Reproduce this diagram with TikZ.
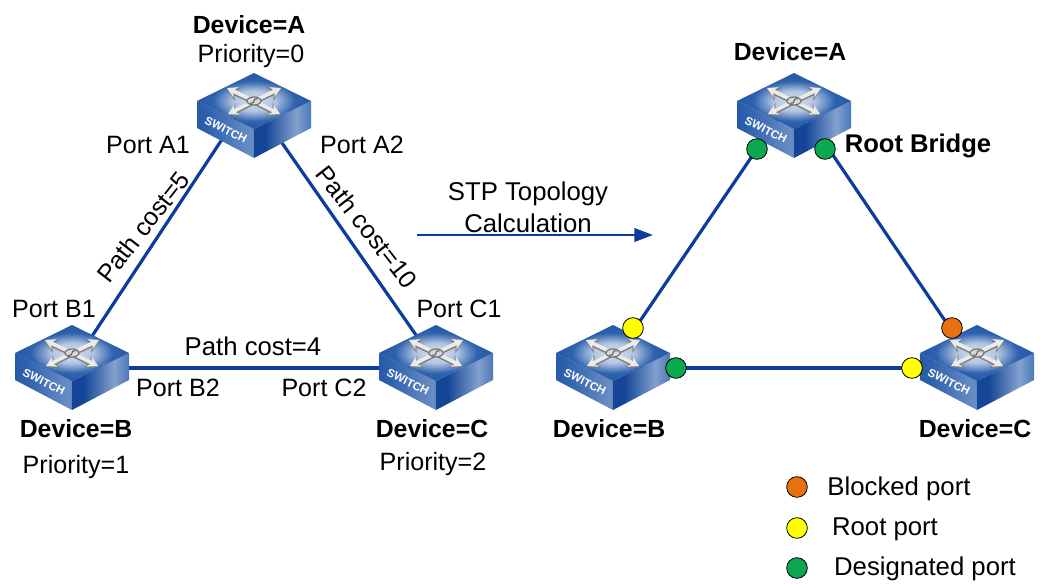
\documentclass[tikz,border=0pt]{standalone}
\usepackage{fontspec}
\setmainfont{Liberation Sans}
\usetikzlibrary{arrows.meta}
\definecolor{linkblue}{HTML}{0B3C9E}
\definecolor{swdark}{HTML}{144596}
\definecolor{swmid}{HTML}{2F62AE}
\definecolor{swlight}{HTML}{D3DEEE}
\definecolor{dotgreen}{HTML}{0BA84F}
\definecolor{dotyellow}{HTML}{FFFF00}
\definecolor{dotorange}{HTML}{E8700F}
\pgfdeclarehorizontalshading{swleftface}{100bp}{
  color(0bp)=(swdark); color(35bp)=(swmid); color(72bp)=(swmid!72!white); color(100bp)=(swdark)}
\pgfdeclarehorizontalshading{swrightface}{100bp}{
  color(0bp)=(swdark); color(35bp)=(swdark); color(62bp)=(swmid!60!white); color(82bp)=(swmid); color(100bp)=(swdark)}
\pgfdeclareradialshading{swtopface}{\pgfpoint{0bp}{0bp}}{
  color(0bp)=(swlight); color(9bp)=(swlight!80!swmid); color(18bp)=(swmid); color(36bp)=(swdark); color(50bp)=(swdark)}
\tikzset{
  x=0.75pt,y=-0.75pt,
  hub/.style={inner sep=0pt,minimum size=0pt},
  link/.style={draw=linkblue,line width=2.4pt},
  portdot/.style={circle,draw=black,line width=0.6pt,minimum size=15.5pt,inner sep=0pt},
  lbl/.style={inner sep=0pt,anchor=base,font=\fontsize{18.8}{22}\selectfont},
  blbl/.style={inner sep=0pt,anchor=base,font=\fontsize{18.6}{22}\selectfont\bfseries},
  wlbl/.style={inner sep=0pt,anchor=base,font=\fontsize{19.3}{22}\selectfont},
  crossarrow/.style={draw=white!92!black,line width=2.8pt,-{Stealth[length=7.5pt,width=8.5pt]}},
  crossshadow/.style={draw=black!50,line width=3.8pt,-{Stealth[length=9pt,width=11pt]}},
  switch/.pic={
    \shade[shading=swleftface]
      (-57,28) -- (0,56) -- (0,85) -- (-57,55) -- cycle;
    \shade[shading=swrightface]
      (0,56) -- (57,28) -- (57,55) -- (0,85) -- cycle;
    \shade[shading=swtopface]
      (0,0) -- (57,28) -- (0,56) -- (-57,28) -- cycle;
    \foreach \tx/\ty in {-27/15,27/15,-26/41,26/41}{
      \draw[crossshadow] (0,29) -- (\tx,\ty+1);
      \draw[crossarrow] (0,28) -- (\tx,\ty);
    }
    \draw[black!55,line width=0.9pt,fill=white!85!black] (0,28) ellipse (7 and 4);
    \draw[black!70,line width=0.7pt] (-4,30) .. controls (4,31) and (-4,25) .. (4,26);
    \node[rotate=-26,inner sep=0pt,text=white,font=\fontsize{8.6}{10}\selectfont\bfseries] at (-28,57) {SWITCH};
  }
}
\begin{document}
\begin{tikzpicture}
\useasboundingbox (0,0) rectangle (1040,583);
% hubs
\node[hub] (LA) at (250,97) {};
\node[hub] (LB) at (71,368) {};
\node[hub] (LC) at (439,368) {};
\node[hub] (RA) at (793,96) {};
\node[hub] (RB) at (608,368) {};
\node[hub] (RC) at (977,368) {};
\coordinate (ArrS) at (417,235);
\coordinate (ArrE) at (653,235);
% links
\draw[link] (LA) -- (LB);
\draw[link] (LA) -- (LC);
\draw[link] (LB) -- (LC);
\draw[link] (RA) -- (RB);
\draw[link] (RA) -- (RC);
\draw[link] (RB) -- (RC);
\draw[link,line width=2.1pt,-{Triangle[length=14pt,width=10pt]}] (ArrS) -- (ArrE);
% switches
\pic at (254,73) {switch};
\pic at (72,325) {switch};
\pic at (436,325) {switch};
\pic at (794,73) {switch};
\pic at (613,325) {switch};
\pic at (977,325) {switch};
% port dots
\node[portdot,fill=dotgreen] (d1) at (757,149) {};
\node[portdot,fill=dotgreen] (d2) at (825,149) {};
\node[portdot,fill=dotyellow] (d3) at (633,328) {};
\node[portdot,fill=dotgreen] (d4) at (676,368) {};
\node[portdot,fill=dotorange] (d5) at (952,328) {};
\node[portdot,fill=dotyellow] (d6) at (912,368) {};
% legend dots
\node[portdot,fill=dotorange] (k1) at (797,487) {};
\node[portdot,fill=dotyellow] (k2) at (797,528) {};
\node[portdot,fill=dotgreen] (k3) at (797,568) {};
% labels left
\node[blbl] (t1) at (249,33) {Device=A};
\node[lbl] (t2) at (251,62) {Priority=0};
\node[lbl] (t3) at (148,153) {Port A1};
\node[lbl] (t4) at (362,153) {Port A2};
\node[lbl,anchor=center,rotate=-52] (t5) at (367,227) {Path cost=10};
\node[lbl,anchor=center,rotate=52] (t6) at (143,227) {Path cost=5};
\node[lbl] (t7) at (54,317) {Port B1};
\node[lbl] (t8) at (459,317) {Port C1};
\node[wlbl] (t9) at (253,355) {Path cost=4};
\node[lbl] (t10) at (178,396) {Port B2};
\node[lbl] (t11) at (324,396) {Port C2};
\node[blbl] (t12) at (76,437) {Device=B};
\node[lbl] (t13) at (76,473) {Priority=1};
\node[blbl] (t14) at (432,437) {Device=C};
\node[lbl] (t15) at (433,470) {Priority=2};
% centre
\node[wlbl] (t16) at (528,200) {STP Topology};
\node[wlbl] (t17) at (528,232) {Calculation};
% labels right
\node[blbl] (t18) at (790,60) {Device=A};
\node[blbl,font=\fontsize{19.2}{22}\selectfont\bfseries] (t19) at (918,152) {Root Bridge};
\node[blbl] (t20) at (609,437) {Device=B};
\node[blbl] (t21) at (975,437) {Device=C};
\node[wlbl] (t22) at (899,495) {Blocked port};
\node[wlbl] (t23) at (885,535) {Root port};
\node[wlbl] (t24) at (925,575) {Designated port};
\end{tikzpicture}
\end{document}
